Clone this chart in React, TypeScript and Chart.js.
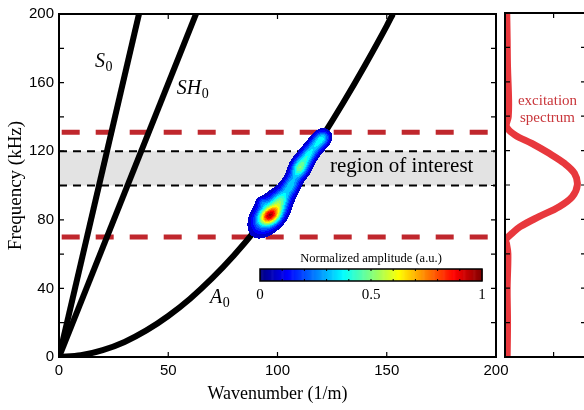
import React, { useEffect, useRef } from 'react';
import { Chart, registerables } from 'chart.js';

Chart.register(...registerables);

// ---------- data ----------
const S0_K = [0, 36.6];
const S0_F = [0, 200];
const SH0_K = [0, 62.7];
const SH0_F = [0, 200];
const A0_K = [0, 10, 20, 30, 40, 50, 60, 70, 80, 90, 100, 110, 120, 130, 140, 150, 152.8];
const A0_F = [0, 1.0, 4.0, 8.8, 15.5, 23.9, 34.0, 45.8, 59.2, 74.1, 90.4, 108.3, 127.5, 148.1, 170.0, 193.1, 200];
const EXC_LIMITS = [70, 131];
const ROI = [100, 120];
const FREQ_TICKS = [0, 40, 80, 120, 160, 200];
const WAVE_TICKS = [0, 50, 100, 150, 200];

// measured amplitude lobes (wavenumber, frequency, normalized amplitude, spread in 1/m)
const BLOB_K = [96.8, 96.0, 101.6, 92.9, 106.0, 110.3, 114.2, 118.1, 121.0];
const BLOB_F = [82.4, 83.5, 91.3, 90.3, 100.0, 110.5, 118.0, 124.4, 128.0];
const BLOB_AMP = [0.6, 0.36, 0.3, 0.12, 0.3, 0.48, 0.28, 0.3, 0.22];
const BLOB_ALONG = [3.6, 6.4, 3.4, 1.5, 3.4, 3.6, 3.0, 3.2, 2.3];
const BLOB_ACROSS = [2.6, 3.8, 2.6, 1.3, 2.4, 2.5, 2.3, 2.3, 2.2];
const BLOB_ANGLE = [30, 55, 58, 0, 62, 62, 62, 55, 45];

const CBAR_TICKS = [0, 0.5, 1];

// excitation spectrum
const SPEC_F = [0, 20, 40, 60, 66, 68, 72, 75.8, 81.6, 87.4, 93.2, 100, 106.8, 112.6, 118.4, 124.2, 129, 133.9, 139.7, 149.4, 168.8, 185, 200];
const SPEC_A = [0.03, 0.035, 0.03, 0.04, 0.02, 0.005, 0.1, 0.21, 0.47, 0.75, 0.93, 1.0, 0.96, 0.82, 0.61, 0.37, 0.14, 0.02, 0.045, 0.05, 0.035, 0.03, 0.024];
const SPEC_TICKS = [0.672];

const MODE_NAMES = ['S', 'SH', 'A'];
const MODE_LABEL_K = [16.5, 53.9, 69.1];
const MODE_LABEL_F = [169.2, 153.3, 31.4];

const SERIF = '"Liberation Serif", "Times New Roman", serif';
const SANS = '"Liberation Sans", Arial, sans-serif';

function jet(v: number): number[] {
  const c = (x: number) => Math.max(0, Math.min(1, x));
  return [c(1.5 - Math.abs(4 * v - 3)), c(1.5 - Math.abs(4 * v - 2)), c(1.5 - Math.abs(4 * v - 1))].map((x) => Math.round(x * 255));
}

const pts = (xs: number[], ys: number[]) => xs.map((x, i) => ({ x, y: ys[i] }));

function drawField(ctx: CanvasRenderingContext2D, xs: any, ys: any, ca: any) {
  const pxPerK = Math.abs(xs.getPixelForValue(1) - xs.getPixelForValue(0));
  const blobs = BLOB_K.map((k, i) => ({
    cx: xs.getPixelForValue(k),
    cy: ys.getPixelForValue(BLOB_F[i]),
    a: BLOB_AMP[i],
    su: BLOB_ALONG[i] * pxPerK,
    sv: BLOB_ACROSS[i] * pxPerK,
    th: (BLOB_ANGLE[i] * Math.PI) / 180,
  }));
  let minX = Infinity, minY = Infinity, maxX = -Infinity, maxY = -Infinity;
  for (const b of blobs) {
    const r = 3 * Math.max(b.su, b.sv);
    minX = Math.min(minX, b.cx - r); maxX = Math.max(maxX, b.cx + r);
    minY = Math.min(minY, b.cy - r); maxY = Math.max(maxY, b.cy + r);
  }
  minX = Math.floor(minX); minY = Math.floor(minY);
  const w = Math.ceil(maxX - minX), h = Math.ceil(maxY - minY);
  const off = document.createElement('canvas');
  off.width = w; off.height = h;
  const octx = off.getContext('2d')!;
  const img = octx.createImageData(w, h);
  for (let py = 0; py < h; py++) {
    for (let px = 0; px < w; px++) {
      const X = minX + px + 0.5, Y = minY + py + 0.5;
      let v = 0;
      for (const b of blobs) {
        const dx = X - b.cx, dy = Y - b.cy;
        const u = dx * Math.cos(b.th) - dy * Math.sin(b.th);
        const q = dx * Math.sin(b.th) + dy * Math.cos(b.th);
        v += b.a * Math.exp(-0.5 * ((u / b.su) ** 2 + (q / b.sv) ** 2));
      }
      if (v < 0.05) continue;
      v = Math.min(v, 0.999);
      const lvl = Math.floor(v / 0.05) * 0.05 + 0.025;
      const c = jet(lvl);
      const idx = (py * w + px) * 4;
      img.data[idx] = c[0]; img.data[idx + 1] = c[1]; img.data[idx + 2] = c[2]; img.data[idx + 3] = 255;
    }
  }
  octx.putImageData(img, 0, 0);
  ctx.save();
  ctx.beginPath();
  ctx.rect(ca.left, ca.top, ca.right - ca.left, ca.bottom - ca.top);
  ctx.clip();
  ctx.drawImage(off, minX, minY);
  ctx.restore();
}

function drawColorbar(ctx: CanvasRenderingContext2D) {
  const x0 = 260, x1 = 482, y0 = 269, y1 = 281;
  const n = 200;
  for (let i = 0; i < n; i++) {
    const c = jet((i + 0.5) / n);
    ctx.fillStyle = `rgb(${c[0]},${c[1]},${c[2]})`;
    const a = x0 + ((x1 - x0) * i) / n;
    ctx.fillRect(a, y0, (x1 - x0) / n + 0.6, y1 - y0);
  }
  ctx.strokeStyle = '#000';
  ctx.lineWidth = 1;
  ctx.beginPath();
  for (let i = 1; i < 10; i++) {
    const x = x0 + ((x1 - x0) * i) / 10;
    ctx.moveTo(x, y0); ctx.lineTo(x, y0 + 2);
    ctx.moveTo(x, y1); ctx.lineTo(x, y1 - 2);
  }
  ctx.stroke();
  ctx.lineWidth = 1.5;
  ctx.strokeRect(x0, y0, x1 - x0, y1 - y0);
  ctx.fillStyle = '#000';
  ctx.font = `12.5px ${SERIF}`;
  ctx.textAlign = 'center';
  ctx.textBaseline = 'alphabetic';
  ctx.fillText('Normalized amplitude (a.u.)', (x0 + x1) / 2, 262);
  ctx.font = `15px ${SERIF}`;
  for (const t of CBAR_TICKS) {
    ctx.fillText(String(t), x0 + (x1 - x0) * t, 299);
  }
}

const mainPlugin = {
  id: 'mainDeco',
  afterDatasetsDraw(chart: any) {
    const ctx: CanvasRenderingContext2D = chart.ctx;
    const xs = chart.scales.x, ys = chart.scales.y;
    const ca = chart.chartArea;
    drawField(ctx, xs, ys, ca);
    ctx.save();
    // frame
    ctx.strokeStyle = '#000';
    ctx.lineWidth = 2;
    ctx.strokeRect(ca.left, ca.top, ca.right - ca.left, ca.bottom - ca.top);
    ctx.lineWidth = 1.2;
    ctx.beginPath();
    for (const t of ys.ticks) {
      const y = ys.getPixelForValue(t.value);
      ctx.moveTo(ca.left, y); ctx.lineTo(ca.left + 5, y);
      ctx.moveTo(ca.right, y); ctx.lineTo(ca.right - 5, y);
    }
    for (const t of xs.ticks) {
      const x = xs.getPixelForValue(t.value);
      ctx.moveTo(x, ca.bottom); ctx.lineTo(x, ca.bottom - 5);
      ctx.moveTo(x, ca.top); ctx.lineTo(x, ca.top + 5);
    }
    ctx.stroke();
    // mode labels
    ctx.fillStyle = '#000';
    ctx.textBaseline = 'alphabetic';
    ctx.textAlign = 'left';
    MODE_NAMES.forEach((name, i) => {
      const x = xs.getPixelForValue(MODE_LABEL_K[i]);
      const y = ys.getPixelForValue(MODE_LABEL_F[i]);
      ctx.font = `italic 20px ${SERIF}`;
      ctx.fillText(name, x, y);
      const w = ctx.measureText(name).width;
      ctx.font = `14px ${SERIF}`;
      ctx.fillText('0', x + w + 0.5, y + 4);
    });
    // region label
    ctx.font = `21px ${SERIF}`;
    ctx.fillText('region of interest', xs.getPixelForValue(124), ys.getPixelForValue(108.1));
    drawColorbar(ctx);
    ctx.restore();
  },
};

const specPlugin = {
  id: 'specDeco',
  afterDatasetsDraw(chart: any) {
    const ctx: CanvasRenderingContext2D = chart.ctx;
    const xs = chart.scales.x, ys = chart.scales.y;
    const ca = chart.chartArea;
    ctx.save();
    ctx.strokeStyle = '#000';
    ctx.lineWidth = 2;
    ctx.strokeRect(ca.left, ca.top, ca.right - ca.left, ca.bottom - ca.top);
    ctx.lineWidth = 1.2;
    ctx.beginPath();
    for (const t of ys.ticks) {
      const y = ys.getPixelForValue(t.value);
      ctx.moveTo(ca.left, y); ctx.lineTo(ca.left + 5, y);
      ctx.moveTo(ca.right, y); ctx.lineTo(ca.right - 5, y);
    }
    for (const v of SPEC_TICKS) {
      const x = xs.getPixelForValue(v);
      ctx.moveTo(x, ca.bottom); ctx.lineTo(x, ca.bottom - 5);
      ctx.moveTo(x, ca.top); ctx.lineTo(x, ca.top + 5);
    }
    ctx.stroke();
    ctx.fillStyle = '#c9363b';
    ctx.font = `15px ${SERIF}`;
    ctx.textAlign = 'center';
    ctx.textBaseline = 'alphabetic';
    const cx = xs.getPixelForValue(0.588);
    ctx.fillText('excitation', cx, ys.getPixelForValue(146.5));
    ctx.fillText('spectrum', cx, ys.getPixelForValue(136.6));
    ctx.restore();
  },
};

const hLine = (f: number) => [{ x: 0, y: f }, { x: 200, y: f }];

export default function App() {
  const mainRef = useRef<HTMLCanvasElement>(null);
  const specRef = useRef<HTMLCanvasElement>(null);

  useEffect(() => {
    const lineBase = { showLine: true, pointRadius: 0, pointHoverRadius: 0, clip: 0, fill: false };
    const main = new Chart(mainRef.current!, {
      type: 'scatter',
      data: {
        datasets: [
          { ...lineBase, data: pts(S0_K, S0_F), borderColor: '#000', borderWidth: 6 },
          { ...lineBase, data: pts(SH0_K, SH0_F), borderColor: '#000', borderWidth: 6 },
          { ...lineBase, data: pts(A0_K, A0_F), borderColor: '#000', borderWidth: 6, cubicInterpolationMode: 'monotone' },
          { ...lineBase, data: hLine(EXC_LIMITS[1]), borderColor: '#c0272d', borderWidth: 5, borderDash: [18, 16], borderDashOffset: 31.3 },
          { ...lineBase, data: hLine(EXC_LIMITS[0]), borderColor: '#c0272d', borderWidth: 5, borderDash: [18, 16], borderDashOffset: 31.3 },
          { ...lineBase, data: hLine(ROI[1]), borderColor: '#000', borderWidth: 2, borderDash: [8, 6] },
          { ...lineBase, data: hLine(ROI[0]), borderColor: '#000', borderWidth: 2, borderDash: [8, 6] },
          { ...lineBase, data: hLine(ROI[1]), borderWidth: 0, borderColor: 'rgba(0,0,0,0)', backgroundColor: '#e3e3e3', fill: { value: ROI[0] } },
        ] as any,
      },
      options: {
        responsive: false,
        animation: false,
        events: [],
        layout: { padding: { left: 0, top: 13, right: 88, bottom: 0 } },
        plugins: { legend: { display: false }, tooltip: { enabled: false } },
        scales: {
          x: {
            type: 'linear', min: 0, max: 200,
            grid: { display: false, drawTicks: false },
            border: { display: false },
            ticks: {
              stepSize: 50, autoSkip: false, maxRotation: 0, padding: 5, color: '#000',
              font: { family: SANS, size: 15 },
              callback: (v: any) => (WAVE_TICKS.includes(v) ? String(v) : ''),
            },
            title: { display: true, text: 'Wavenumber (1/m)', color: '#000', font: { family: SERIF, size: 18, lineHeight: 1 }, padding: { top: 0, bottom: 7 } },
            afterFit: (s: any) => { s.height = 53; },
          },
          y: {
            type: 'linear', min: 0, max: 200,
            grid: { display: false, drawTicks: false },
            border: { display: false },
            ticks: {
              stepSize: 20, autoSkip: false, padding: 5, color: '#000',
              font: { family: SANS, size: 15 },
              callback: (v: any) => (FREQ_TICKS.includes(v) ? String(v) : ''),
            },
            title: { display: true, text: 'Frequency (kHz)', color: '#000', font: { family: SERIF, size: 19, lineHeight: 1 }, padding: { top: 7, bottom: 0 } },
            afterFit: (s: any) => { s.width = 59; },
          },
        } as any,
      },
      plugins: [mainPlugin],
    });

    const spec = new Chart(specRef.current!, {
      type: 'scatter',
      data: {
        datasets: [
          { showLine: true, pointRadius: 0, pointHoverRadius: 0, data: pts(SPEC_A, SPEC_F), borderColor: '#e8383d', borderWidth: 7, tension: 0.35, clip: 0 },
        ] as any,
      },
      options: {
        responsive: false,
        animation: false,
        events: [],
        layout: { padding: { left: 505, right: 14, top: 13, bottom: 53 } },
        plugins: { legend: { display: false }, tooltip: { enabled: false } },
        scales: {
          x: { type: 'linear', min: 0, max: 1.12, display: false },
          y: { type: 'linear', min: 0, max: 200, display: false, ticks: { stepSize: 20 } },
        } as any,
      },
      plugins: [specPlugin],
    });

    return () => { main.destroy(); spec.destroy(); };
  }, []);

  return (
    <div style={{ position: 'fixed', left: 0, top: 0, width: 584, height: 410, overflow: 'hidden', background: '#fff' }}>
      <canvas ref={specRef} width={600} height={410} style={{ position: 'absolute', left: 0, top: 0, width: 600, height: 410 }} />
      <canvas ref={mainRef} width={584} height={410} style={{ position: 'absolute', left: 0, top: 0, width: 584, height: 410 }} />
    </div>
  );
}
